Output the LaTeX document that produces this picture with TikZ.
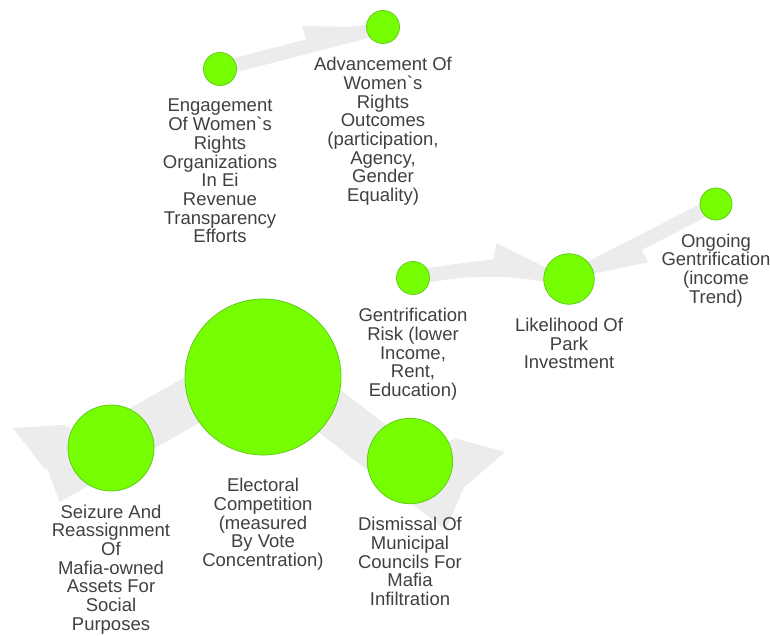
\documentclass[tikz,border=0pt]{standalone}
\usepackage{fontspec}
\setmainfont{Liberation Sans}
\usetikzlibrary{backgrounds}
\usetikzlibrary{positioning, calc, arrows.meta}
\definecolor{nodegreen}{RGB}{118,255,3}
\definecolor{rimgreen}{RGB}{96,204,20}
\definecolor{linkgray}{RGB}{236,236,236}
\definecolor{textgray}{RGB}{64,64,64}
\tikzset{factor/.style={circle, fill=nodegreen, draw=rimgreen, line width=0.8pt, inner sep=0pt, outer sep=0pt}}
\tikzset{caption/.style={align=center, inner sep=0pt, text=textgray, label distance=13.5pt, font={\fontsize{18.5pt}{18.7pt}\selectfont}}}
\tikzset{link/.style={draw=linkgray, line width=14pt, postaction={draw=linkgray, line width=14pt, -{Triangle[harpoon, length=78pt, width=42pt, line width=0pt]}}}}
\tikzset{heavy/.style={draw=linkgray, line width=47pt, line join=miter, -{Triangle[length=47pt, width=50pt, line width=0pt]}}}

\begin{document}
\begin{tikzpicture}[x=1pt, y=1pt]
  \useasboundingbox (0,0) rectangle (770,635);

  \node[factor, minimum size=33pt] (eng) at (220,566) [label={[caption]below:{Engagement\\Of Women\textasciigrave s\\Rights\\Organizations\\In Ei\\Revenue\\Transparency\\Efforts}}] {};
  \node[factor, minimum size=33pt] (adv) at (383,608) [label={[caption]below:{Advancement Of\\Women\textasciigrave s\\Rights\\Outcomes\\(participation,\\Agency,\\Gender\\Equality)}}] {};
  \node[factor, minimum size=33pt] (gent) at (413,357) [label={[caption]below:{Gentrification\\Risk (lower\\Income,\\Rent,\\Education)}}] {};
  \node[factor, minimum size=50.6pt] (park) at (569,356) [label={[caption]below:{Likelihood Of\\Park\\Investment}}] {};
  \node[factor, minimum size=32pt] (ongo) at (716,431) [label={[caption]below:{Ongoing\\Gentrification\\(income\\Trend)}}] {};
  \node[factor, minimum size=156pt] (elect) at (263,258) [label={[caption, label distance=23pt]below:{Electoral\\Competition\\(measured\\By Vote\\Concentration)}}] {};
  \node[factor, minimum size=86pt] (seiz) at (111,187) [label={[caption]below:{Seizure And\\Reassignment\\Of\\Mafia-owned\\Assets For\\Social\\Purposes}}] {};
  \node[factor, minimum size=85.4pt] (dism) at (410,174) [label={[caption]below:{Dismissal Of\\Municipal\\Councils For\\Mafia\\Infiltration}}] {};

  % bends of the heavy links
  \coordinate (dknee) at ($(dism)+(26,-32)$);
  \coordinate (dbend) at ($(dism)+(38,-4)$);
  \coordinate (dtip) at ($(dism)+(95,9)$);
  \coordinate (sknee) at ($(seiz)+(-39,-20)$);
  \coordinate (sbend) at ($(seiz)+(-45,-4)$);
  \coordinate (stip) at ($(seiz)+(-98,20)$);

  \begin{scope}[on background layer]
    \draw[link] (eng.center) -- (adv.center);
    \draw[link] (gent.center) to[bend left=11] (park.center);
    \draw[link] (ongo.center) -- (park.center);
    \draw[heavy] ([yshift=17pt]elect.center) -- (sknee) -- (sbend) -- (stip);
    \draw[heavy] ([yshift=17pt]elect.center) -- (dknee) -- (dbend) -- (dtip);
  \end{scope}

\end{tikzpicture}
\end{document}
